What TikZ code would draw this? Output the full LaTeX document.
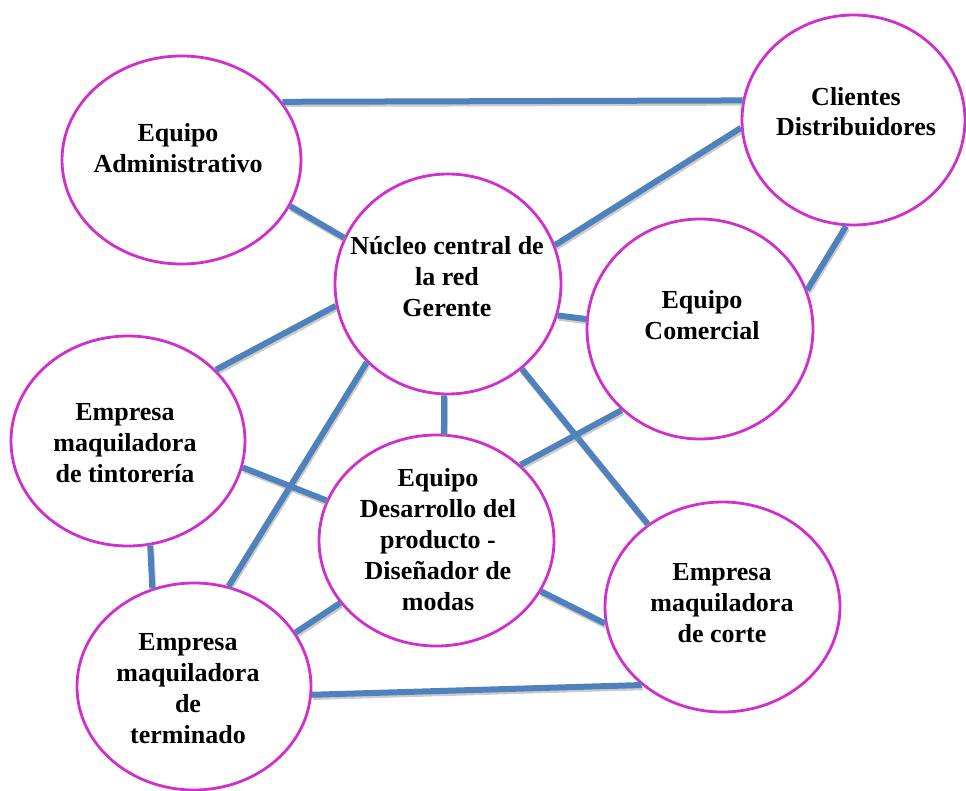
\documentclass[tikz,border=0pt]{standalone}
\usepackage{fontspec}
\setmainfont{Liberation Serif}
\usetikzlibrary{shapes.geometric}
\definecolor{ringcol}{RGB}{207,48,204}
\definecolor{linkcol}{RGB}{79,129,189}
\tikzset{
  ring/.style={ellipse, draw=ringcol, line width=2.8pt, fill=white, inner sep=0pt},
  lbl/.style={align=center, inner sep=0pt, font=\fontsize{26}{31}\selectfont\bfseries},
  link/.style={draw=linkcol, line width=6pt,
    preaction={draw=black!45, opacity=0.45, line width=6pt, transform canvas={shift={(1pt,-2.2pt)}}}},
}
\newcommand{\myst}{\strut}
\begin{document}
\begin{tikzpicture}[x=1pt,y=-1pt]
\useasboundingbox (0,0) rectangle (966,791);
% ellipses
\node[ring, minimum width=239pt, minimum height=208pt] (A) at (181.5,160) {};
\node[ring, minimum width=226pt, minimum height=220pt] (N) at (448,284) {};
\node[ring, minimum width=223pt, minimum height=210pt] (C) at (853.5,120) {};
\node[ring, minimum width=226pt, minimum height=220pt] (M) at (700,329) {};
\node[ring, minimum width=234pt, minimum height=210pt] (T) at (128,441) {};
\node[ring, minimum width=235pt, minimum height=211pt] (D) at (436.5,540.5) {};
\node[ring, minimum width=234pt, minimum height=207pt] (F) at (194,686.5) {};
\node[ring, minimum width=235pt, minimum height=210pt] (K) at (722.5,607) {};
% links
\path[link] (A.30.4) -- (C.170);
\path[link] (A.-23.9) -- (N.156.8);
\path[link] (N.20.8) -- (C.-176);
\path[link] (C.-94.2) -- (M.20.4);
\path[link] (N.-16.5) -- (M.175.5);
\path[link] (N.-169.5) -- (T.39);
\path[link] (N.-136.8) -- (F.71.7);
\path[link] (N.-92.6) -- (D.86.5);
\path[link] (N.-49.9) -- (K.132.7);
\path[link] (M.-134.6) -- (D.42.4);
\path[link] (T.-13) -- (D.160.1);
\path[link] (T.-78.9) -- (F.113.1);
\path[link] (D.-147.5) -- (F.28.1);
\path[link] (D.-26.7) -- (K.-172.7);
\path[link] (F.-4.3) -- (K.-136.7);
% labels
\node[lbl] (At) at (178,151.3) {\myst Equipo\\\myst Administrativo};
\node[lbl] (Nt) at (447,279.8) {\myst Núcleo central de\\\myst la red\\\myst Gerente};
\node[lbl, font=\fontsize{26}{30}\selectfont\bfseries] (Ct) at (856,114.3) {\myst Clientes\\\myst Distribuidores};
\node[lbl] (Mt) at (702,318.3) {\myst Equipo\\\myst Comercial};
\node[lbl] (Tt) at (125,444.8) {\myst Empresa\\\myst maquiladora\\\myst de tintorería};
\node[lbl] (Dt) at (438,541.8) {\myst Equipo\\\myst Desarrollo del\\\myst producto -\\\myst Diseñador de\\\myst modas};
\node[lbl] (Ft) at (188,690.3) {\myst Empresa\\\myst maquiladora\\\myst de\\\myst terminado};
\node[lbl] (Kt) at (722,604.8) {\myst Empresa\\\myst maquiladora\\\myst de corte};
\end{tikzpicture}
\end{document}
